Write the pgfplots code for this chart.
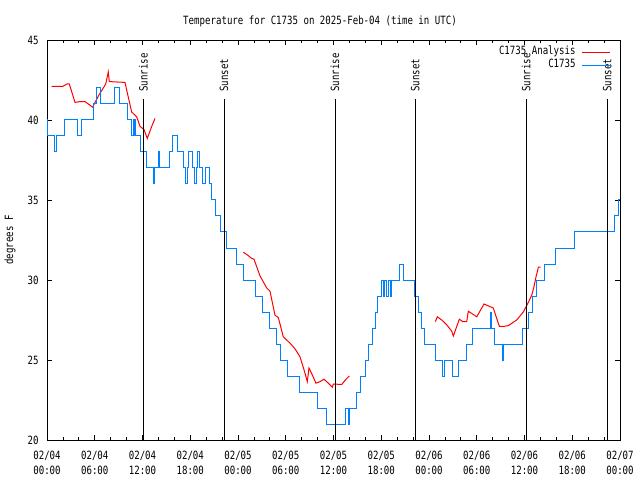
\documentclass[border=0pt]{standalone}
\usepackage{fontspec}
\setmainfont{DejaVu Sans Mono}[FakeStretch=0.8]
\usepackage{pgfplots}
\pgfplotsset{compat=1.18}

\definecolor{anared}{RGB}{255,0,0}
\definecolor{obsblue}{RGB}{0,128,255}

\begin{document}
\begin{tikzpicture}[font=\fontsize{11.4}{12.5}\selectfont]
\path[use as bounding box] (-47bp,-40bp) rectangle (593bp,440bp);
\begin{axis}[
  at={(0,0)}, anchor=south west,
  scale only axis, width=573bp, height=400bp,
  xmin=0, xmax=72, ymin=20, ymax=45,
  xtick={0,6,...,72},
  xticklabels={{02/04\\00:00},{02/04\\06:00},{02/04\\12:00},{02/04\\18:00},
               {02/05\\00:00},{02/05\\06:00},{02/05\\12:00},{02/05\\18:00},
               {02/06\\00:00},{02/06\\06:00},{02/06\\12:00},{02/06\\18:00},
               {02/07\\00:00}},
  xticklabel style={align=center, yshift=-8bp, font=\fontsize{11.4}{15}\selectfont},
  yticklabel style={xshift=-5bp},
  minor x tick num=2,
  ytick={20,25,...,45},
  tick align=inside,
  major tick length=5bp, minor tick length=3bp,
  /pgf/number format/assume math mode=true,
  axis line style={line width=0.8bp},
  every tick/.style={black, line width=0.8bp},
  unbounded coords=jump,
  legend style={draw=none, fill=none, at={(1,1)}, anchor=north east,
    xshift=-9bp, yshift=-4bp, inner sep=0pt, row sep=-1bp, column sep=4bp,
    nodes={inner sep=2bp}},
  legend cell align=right,
  legend plot pos=right,
  legend image code/.code={\draw[#1, line width=1.2bp] (0bp,-1.5bp) -- (28bp,-1.5bp);},
]

% analysis (red), three separate runs
\addplot[color=anared, line width=1bp] coordinates {
(0.59,42.1)(1.97,42.1)(2.51,42.25)(2.8,42.25)(3.52,41.1)(4.15,41.15)(4.78,41.15)
(5.74,40.8)(6.45,41.5)(7.38,42.25)(7.7,43.0)(7.83,42.4)(9.8,42.35)(10.09,41.7)
(10.64,40.5)(11.27,40.2)(11.69,39.6)(12.19,39.4)(12.6,38.85)(13.16,39.6)(13.57,40.1)
(13.8,nan)
(24.67,31.73)(25.09,31.6)(25.72,31.35)(26.01,31.3)(26.77,30.25)(27.61,29.5)
(28.02,29.3)(28.65,27.8)(29.07,27.65)(29.69,26.45)(30.54,26.05)(31.16,25.7)
(31.79,25.2)(32.29,24.4)(32.71,23.65)(32.92,24.5)(33.26,24.15)(33.8,23.55)
(34.31,23.65)(34.81,23.8)(35.35,23.55)(35.85,23.3)(35.98,23.5)(37.03,23.47)
(37.57,23.8)(37.99,24.0)
(38.5,nan)
(48.8,27.4)(49.05,27.7)(49.6,27.5)(50.23,27.2)(50.86,26.8)(51.06,26.5)(51.81,27.55)
(52.24,27.4)(52.74,27.4)(52.94,28.05)(54.0,27.7)(54.91,28.5)(56.08,28.25)
(56.84,27.1)(57.43,27.1)(57.97,27.15)(59.02,27.5)(59.85,28.0)(60.28,28.4)
(60.91,29.05)(61.2,29.6)(61.45,30.2)(61.74,30.8)(62.04,30.8)
};
\addlegendentry{C1735 Analysis}

% observations (blue), value holds until next change
\addplot[color=obsblue, line width=1bp, const plot mark left] coordinates {
(0,40)(0.05,39)(0.9,38)(1.15,39)(2.2,40)(3.81,39)(4.31,40)(5.9,41)(6.24,42)
(6.66,41)(8.42,42)(9.1,41)(10.1,40)(10.68,39)(10.85,40)(10.95,39)(11.05,40)
(11.15,39)(11.69,38)(12.44,37)(13.4,36)(13.56,37)(13.99,38)(14.15,37)(15.37,38)
(15.79,39)(16.38,38)(17.2,37)(17.37,36)(17.62,37)(17.8,38)(18.3,37)(18.55,36)
(18.8,37)(18.97,38)(19.14,37)(19.48,36)(19.9,37)(20.48,36)(20.65,35)(21.2,34)
(21.83,33)(22.58,32)(23.75,31)(24.67,30)(26.18,29)(27.02,28)(27.93,27)(28.78,26)
(29.28,25)(30.2,24)(31.7,23)(33.97,22)(35.06,21)(37.48,22)(37.9,21)(38.05,22)
(38.95,23)(39.39,24)(39.96,25)(40.46,26)(40.84,27)(41.25,28)(41.59,29)(42.03,30)
(42.29,29)(42.41,30)(42.72,29)(42.85,30)(43.1,29)(43.23,30)(44.27,31)(44.77,30)
(46.12,29)(46.7,28)(47.04,27)(47.46,26)(48.8,25)(49.72,24)(49.97,25)(50.98,24)
(51.73,25)(52.65,26)(53.49,27)(55.7,28)(55.87,27)(56.17,26)(57.21,25)(57.38,26)
(59.73,27)(60.44,28)(60.95,29)(61.45,30)(62.5,31)(63.88,32)(66.22,33)(71.29,34)
(71.79,35)(72,35)
};
\addlegendentry{C1735}

% sunrise / sunset markers
\foreach \t/\lab in {12.1/Sunrise, 22.24/Sunset, 36.19/Sunrise, 46.28/Sunset, 60.19/Sunrise, 70.41/Sunset}{
  \edef\temp{\noexpand\draw[black, line width=0.8bp] (axis cs:\t,20) -- (axis cs:\t,41.3);
    \noexpand\node[rotate=90, anchor=west, inner sep=0pt] at (axis cs:\t,41.75) {\lab};}
  \temp
}
\end{axis}
\node at (273bp,419bp) {Temperature for C1735 on 2025-Feb-04 (time in UTC)};
\node[rotate=90] at (-37bp,200bp) {degrees F};
\end{tikzpicture}
\end{document}
